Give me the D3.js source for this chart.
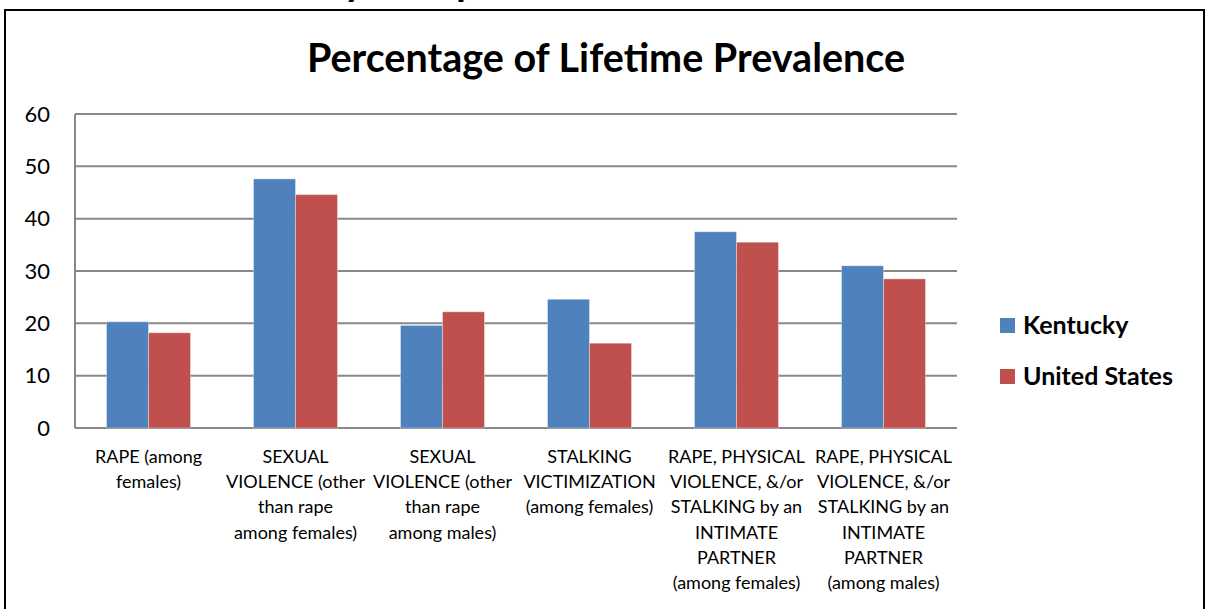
<!DOCTYPE html>
<html>
<head>
<meta charset="utf-8">
<script src="https://cdn.jsdelivr.net/npm/d3@7"></script>
<style>
  body { margin: 0; background: #fff; }
  svg { display: block; font-family: Lato, "Open Sans", sans-serif; }
</style>
</head>
<body>
<div id="chart-area"></div>
<script>
// data
var categories = [
  ["RAPE (among", "females)"],
  ["SEXUAL", "VIOLENCE (other", "than rape", "among females)"],
  ["SEXUAL", "VIOLENCE (other", "than rape", "among males)"],
  ["STALKING", "VICTIMIZATION", "(among females)"],
  ["RAPE, PHYSICAL", "VIOLENCE, &/or", "STALKING by an", "INTIMATE", "PARTNER", "(among females)"],
  ["RAPE, PHYSICAL", "VIOLENCE, &/or", "STALKING by an", "INTIMATE", "PARTNER", "(among males)"]
];
var kentucky = [20.3, 47.6, 19.6, 24.6, 37.5, 31.0];
var unitedStates = [18.2, 44.6, 22.2, 16.2, 35.5, 28.5];
var seriesNames = ["Kentucky", "United States"];
var seriesColors = ["#4F81BD", "#C0504D"];
var yTicks = [0, 10, 20, 30, 40, 50, 60];

var W = 1210, H = 609;
var margin = { left: 75, top: 114, right: 253, bottom: 181 };
var width = W - margin.left - margin.right,
    height = H - margin.top - margin.bottom;

var svg = d3.select("#chart-area").append("svg")
  .attr("width", W).attr("height", H);

// heading above the frame, only its descenders are on the page
svg.append("text")
  .attr("x", 196).attr("y", -5)
  .attr("font-size", "40px").attr("font-weight", "bold")
  .text("Kentucky Comparison");

// outer frame (bottom edge runs off the page)
svg.append("rect")
  .attr("x", 5).attr("y", 10).attr("width", 1199).attr("height", 640)
  .attr("fill", "none").attr("stroke", "#000").attr("stroke-width", 2);

svg.append("text")
  .attr("x", 606).attr("y", 72)
  .attr("text-anchor", "middle")
  .attr("font-size", "39.5px").attr("font-weight", "bold")
  .text("Percentage of Lifetime Prevalence");

var g = svg.append("g")
  .attr("transform", "translate(" + margin.left + "," + margin.top + ")");

var x = d3.scaleBand().domain(d3.range(categories.length)).range([0, width]);
var x1 = d3.scaleBand().domain([0, 1]).range([0, x.bandwidth()]).paddingOuter(0.75);
var y = d3.scaleLinear().domain([0, 60]).range([height, 0]);

// gridlines
g.selectAll(".grid").data(yTicks).enter().append("line")
  .attr("x1", 0).attr("x2", width)
  .attr("y1", function (d) { return y(d); })
  .attr("y2", function (d) { return y(d); })
  .attr("stroke", "#888").attr("stroke-width", 2);

g.append("line")
  .attr("x1", 0).attr("x2", 0).attr("y1", 0).attr("y2", height)
  .attr("stroke", "#888").attr("stroke-width", 2);

var yAxis = d3.axisLeft(y).tickValues(yTicks).tickSize(0).tickPadding(25);
var ya = g.append("g").call(yAxis);
ya.select(".domain").remove();
ya.selectAll("text").attr("font-size", "22px").attr("fill", "#000")
  .attr("font-family", "Lato, sans-serif");

var series = [kentucky, unitedStates];
series.forEach(function (vals, s) {
  g.selectAll(".bar" + s).data(vals).enter().append("rect")
    .attr("x", function (d, i) { return x(i) + x1(s); })
    .attr("y", function (d) { return y(d); })
    .attr("width", x1.bandwidth())
    .attr("height", function (d) { return height - y(d); })
    .attr("fill", seriesColors[s])
    .attr("stroke", "rgba(255,255,255,0.35)").attr("stroke-width", 1);
});

// category labels
categories.forEach(function (lines, i) {
  var t = g.append("text")
    .attr("text-anchor", "middle")
    .attr("font-size", "18px")
    .attr("transform", "translate(" + (x(i) + x.bandwidth() / 2) + "," + (height + 35) + ")");
  lines.forEach(function (line, j) {
    t.append("tspan").attr("x", 0).attr("y", j * 25.2).text(line);
  });
});

// legend
var legend = svg.append("g").attr("transform", "translate(1000,318)");
seriesNames.forEach(function (name, i) {
  var row = legend.append("g").attr("transform", "translate(0," + i * 51 + ")");
  row.append("rect").attr("width", 15).attr("height", 15).attr("fill", seriesColors[i]);
  row.append("text").attr("x", 23).attr("y", 16)
    .attr("font-size", "25px").attr("font-weight", "bold")
    .text(name);
});
</script>
</body>
</html>
